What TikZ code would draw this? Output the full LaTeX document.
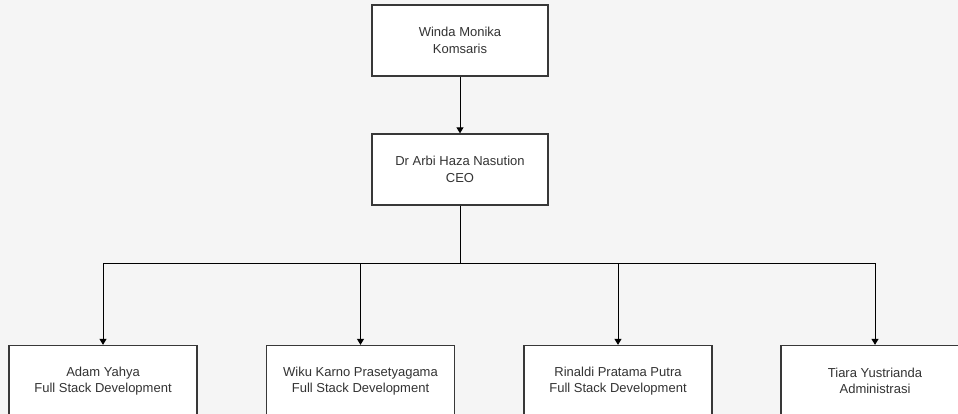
\documentclass[tikz,border=0pt]{standalone}
\usepackage{fontspec}
\setmainfont{Liberation Sans}
\usetikzlibrary{arrows.meta}
\definecolor{bg}{HTML}{F5F5F5}
\definecolor{txt}{HTML}{333333}
\definecolor{edge}{HTML}{383838}
\begin{document}
\begin{tikzpicture}[x=1pt,y=-1pt,
  person/.style={draw=edge, line width=1.3pt, fill=white, minimum width=176pt, minimum height=71pt,
    inner sep=0pt, align=center, text=txt, font=\fontsize{13}{16.5}\selectfont},
  conn/.style={draw=black, line width=1pt},
  arr/.style={conn, -{Triangle[length=6pt,width=7pt]}}]
\fill[bg] (0,0) rectangle (958,414);
\useasboundingbox (0,0) rectangle (958,414);
\clip (0,0) rectangle (958,414);
\node[person] (kom) at (460,40.5) {Winda Monika\\Komsaris};
\node[person] (ceo) at (460,169.5) {Dr Arbi Haza Nasution\\CEO};
\node[person, minimum width=188pt] (adam) at (103,381) {Adam Yahya\\Full Stack Development};
\node[person, minimum width=188pt] (wiku) at (360.5,381) {Wiku Karno Prasetyagama\\Full Stack Development};
\node[person, minimum width=188pt] (rin) at (618,381) {Rinaldi Pratama Putra\\Full Stack Development};
\node[person, minimum width=188pt] (tia) at (875,381) {Tiara Yustrianda\\Administrasi};
\coordinate (j) at (460,263);
\draw[arr] (kom) -- (ceo);
\draw[conn] (ceo.south) -- (j);
\draw[arr] (j) -| (adam.north);
\draw[arr] (j) -| (wiku.north);
\draw[arr] (j) -| (rin.north);
\draw[arr] (j) -| (tia.north);
\end{tikzpicture}
\end{document}
